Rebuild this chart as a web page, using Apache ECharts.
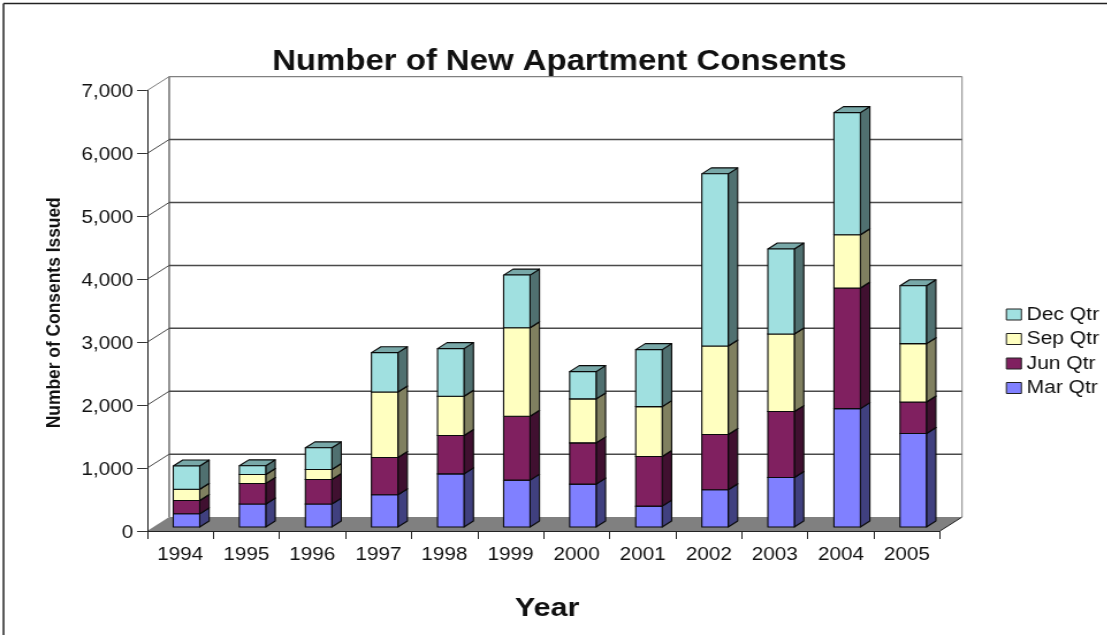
<!DOCTYPE html>
<html>
<head>
<meta charset="utf-8">
<script src="https://cdn.jsdelivr.net/npm/echarts@6/dist/echarts.min.js"></script>
<style>
html,body{margin:0;padding:0;background:#fff;overflow:hidden;width:1107px;height:635px}
#chart{position:absolute;left:0;top:0;height:635px;transform-origin:0 0}
</style>
</head>
<body>
<div id="chart"></div>
<script>
const categories = ['1994','1995','1996','1997','1998','1999','2000','2001','2002','2003','2004','2005'];
const marQtr = [210,365,365,512,845,745,682,332,592,787,1882,1486];
const junQtr = [211,328,391,593,609,1016,656,789,878,1048,1917,502];
const sepQtr = [180,143,159,1042,624,1407,698,793,1407,1232,846,926];
const decQtr = [370,137,344,624,757,836,434,905,2736,1351,1941,921];
const seriesNames = ['Mar Qtr','Jun Qtr','Sep Qtr','Dec Qtr'];
const yTicks = [0,1000,2000,3000,4000,5000,6000,7000];

const SX = 1.15;                       // reference is stretched horizontally
const W = 1107 / SX;
const px = v => v / SX;
const depthX = px(22), depthY = 13.9;  // chart box depth
const barDepth = 0.43, barFront = 0.285; // bar depth and offset as fraction of box depth

const palette = {
  'Mar Qtr': {front:'#8080FF', side:'#40407F', top:'#6060BF'},
  'Jun Qtr': {front:'#802060', side:'#401030', top:'#601848'},
  'Sep Qtr': {front:'#FFFFC0', side:'#808060', top:'#BFBF90'},
  'Dec Qtr': {front:'#A0E0E0', side:'#507070', top:'#78A8A8'}
};
const edge = {stroke:'#0a0a0a', lineWidth:1.1, lineJoin:'round'};

const el = document.getElementById('chart');
el.style.width = W + 'px';
el.style.transform = 'scaleX(' + SX + ')';
const chart = echarts.init(el, null, {width:W, height:635, renderer:'canvas'});

function poly(points, fill, stroke){
  return {type:'polygon', shape:{points}, style:{fill, ...(stroke||{stroke:'none'})}};
}
function line(a, b, stroke, lineWidth){
  return {type:'line', shape:{x1:a[0],y1:a[1],x2:b[0],y2:b[1]}, style:{stroke, lineWidth}};
}

function renderWall(params, api){
  const v = api.value(0);
  const cs = params.coordSys;
  const y = api.coord([0, v])[1];
  const xl = cs.x, xr = cs.x + cs.width;
  const back = [xl + depthX, y - depthY];
  const backR = [xr + depthX, y - depthY];
  const children = [];
  if (v === 0) {
    children.push(poly([[xl,y],[xr,y],backR,back], '#808080'));
    const topY = api.coord([0, yTicks[yTicks.length-1]])[1] - depthY;
    children.push(line([back[0],topY], back, '#808080', 1.7));
    children.push(line([backR[0],topY], backR, '#999999', 1.2));
    children.push(line([xr,y], backR, '#222222', 1));
  } else {
    const top = v === yTicks[yTicks.length-1];
    const c = top ? '#808080' : '#4a4a4a';
    children.push(line([xl,y], back, c, 1));
    children.push(line(back, backR, c, top ? 1.2 : 1.5));
  }
  return {type:'group', children};
}

function renderBar(name){
  const col = palette[name];
  return function(params, api){
    const i = api.value(0);
    const p0 = api.coord([i, api.value(1)]);
    const p1 = api.coord([i, api.value(2)]);
    const w = api.size([1,0])[0] * 0.4;
    const ox = depthX * barFront, oy = -depthY * barFront;
    const dx = depthX * barDepth, dy = -depthY * barDepth;
    const xl = p0[0] - w/2 + ox, xr = p0[0] + w/2 + ox;
    const yb = p0[1] + oy, yt = p1[1] + oy;
    return {type:'group', children:[
      poly([[xr,yb],[xr+dx,yb+dy],[xr+dx,yt+dy],[xr,yt]], col.side, edge),
      poly([[xl,yt],[xr,yt],[xr+dx,yt+dy],[xl+dx,yt+dy]], col.top, edge),
      poly([[xl,yb],[xr,yb],[xr,yt],[xl,yt]], col.front, edge)
    ]};
  };
}

const quarters = [marQtr, junQtr, sepQtr, decQtr];
const barSeries = seriesNames.map((name, s) => ({
  name,
  type:'custom',
  coordinateSystem:'cartesian2d',
  z:3,
  silent:true,
  itemStyle:{color:palette[name].front},
  encode:{x:0, y:[1,2]},
  renderItem:renderBar(name),
  data:categories.map((c, i) => {
    let base = 0;
    for (let k = 0; k < s; k++) base += quarters[k][i];
    return [i, base, base + quarters[s][i]];
  })
}));

chart.setOption({
  animation:false,
  backgroundColor:'#ffffff',
  textStyle:{fontFamily:'"Liberation Sans", Arial, sans-serif', color:'#111'},
  title:{
    text:'Number of New Apartment Consents',
    left:px(553), top:43, textAlign:'center',
    textStyle:{fontSize:28.6, fontWeight:'bold', color:'#111', fontFamily:'"Liberation Sans", Arial, sans-serif'}
  },
  legend:{
    data:seriesNames.slice().reverse(),
    orient:'vertical', left:px(999), top:300.5,
    itemWidth:px(15), itemHeight:11, itemGap:6.5,
    icon:'rect',
    itemStyle:{borderColor:'#222', borderWidth:1},
    textStyle:{fontSize:18.3, color:'#111', padding:[0,0,0,-0.5]},
    selectedMode:false
  },
  grid:{left:px(147), width:px(792), top:90.5, height:440.5, containLabel:false},
  xAxis:{
    type:'category', data:categories, z:5,
    name:'Year', nameLocation:'middle', nameGap:64,
    nameTextStyle:{fontSize:26.5, fontWeight:'bold', color:'#111', padding:[0,0,0,px(7)]},
    axisLine:{show:true, onZero:false, lineStyle:{color:'#222', width:1}},
    axisTick:{show:true, length:8, lineStyle:{color:'#222', width:1}},
    axisLabel:{fontSize:18, color:'#111', margin:15, interval:0},
    splitLine:{show:false}
  },
  yAxis:{
    type:'value', min:0, max:7000, interval:1000, z:5,
    name:'Number of Consents Issued', nameLocation:'middle', nameRotate:90, nameGap:72,
    nameTextStyle:{fontSize:17.4, fontWeight:'bold', color:'#111', padding:[0,4,0,0]},
    axisLine:{show:true, lineStyle:{color:'#222', width:1}},
    axisTick:{show:true, length:px(10), lineStyle:{color:'#333', width:1}},
    axisLabel:{
      margin:12,
      formatter:v => '{v|' + v.toLocaleString('en-US') + '}',
      rich:{v:{fontSize:18, color:'#111', padding:[4,0,0,0]}}
    },
    splitLine:{show:false}
  },
  graphic:[
    {type:'line', silent:true, shape:{x1:px(3.5),y1:3.5,x2:W,y2:3.5}, style:{stroke:'#222',lineWidth:1.5}},
    {type:'line', silent:true, shape:{x1:px(3.5),y1:3.5,x2:px(3.5),y2:635}, style:{stroke:'#222',lineWidth:1.5}}
  ],
  series:[
    {type:'custom', coordinateSystem:'cartesian2d', z:1, silent:true, encode:{y:0},
     renderItem:renderWall, data:yTicks.map(v => [v])},
    ...barSeries
  ]
});
</script>
</body>
</html>
